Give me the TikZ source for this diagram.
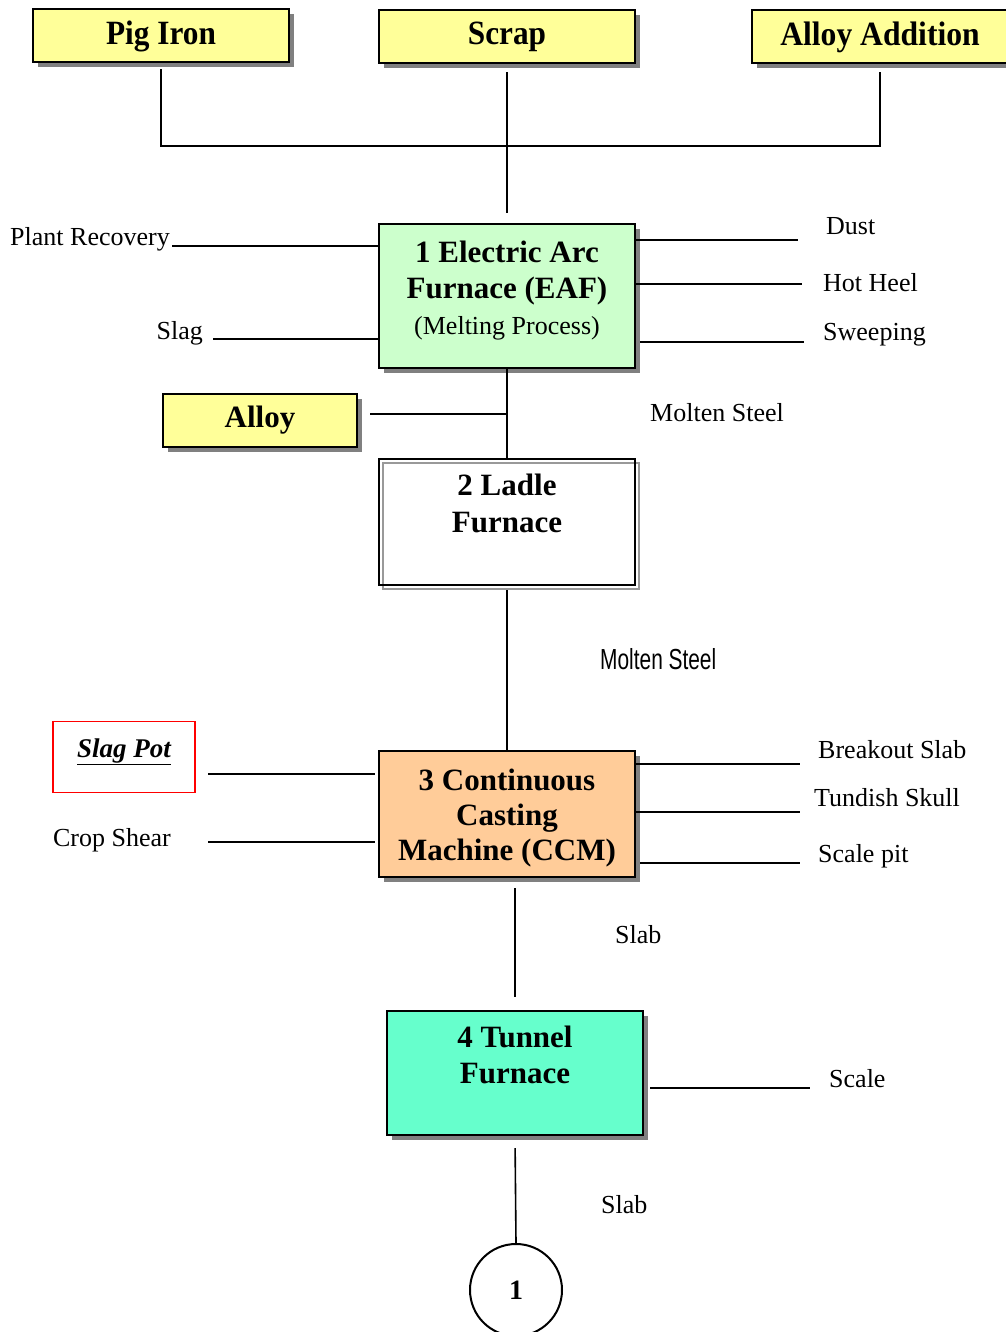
\documentclass[tikz,border=0pt]{standalone}
\usepackage{fontspec}
\setmainfont{Liberation Serif}
\newfontfamily\narrowsans{Liberation Sans}
\usepackage{graphicx}
\usetikzlibrary{shadows}

\definecolor{feedyellow}{RGB}{255,255,153}
\definecolor{eafgreen}{RGB}{204,255,204}
\definecolor{ccmpeach}{RGB}{255,204,153}
\definecolor{tunnelaqua}{RGB}{102,255,204}

\begin{document}
\begin{tikzpicture}[x=1pt,y=-1pt,
	flow/.style={line width=1.6pt},
	unitbox/.style={draw, line width=2pt, inner sep=0pt, minimum width=256pt, align=center,
		font=\bfseries\fontsize{31}{36}\selectfont,
		drop shadow={shadow xshift=5pt, shadow yshift=-5pt, fill=black!50, opacity=1}},
	unittext/.style={align=center, inner sep=0pt, font=\bfseries\fontsize{31}{36}\selectfont},
	feedbox/.style={unitbox, fill=feedyellow, minimum height=53pt, font=\bfseries\fontsize{34}{36}\selectfont},
	sidetext/.style={inner sep=0pt, font=\fontsize{26}{30}\selectfont}]
		
		\useasboundingbox (0,0) rectangle (1005,1332);
		
		% Feed boxes
		\node [feedbox] (pig) at (161,36) {\scalebox{0.92}[1]{Pig Iron}};
		\node [feedbox] (scrap) at (507,37) {\scalebox{0.92}[1]{Scrap}};
		\node [feedbox] (alloyadd) at (880,37) {\scalebox{0.93}[1]{Alloy Addition}};
		\coordinate (join) at (507,146);
		
		% Shape: EAF
		\node [unitbox, fill=eafgreen, minimum height=144pt,
			label={[name=eaftext, unittext, yshift=5pt]center:1 Electric Arc\\Furnace (EAF)\\{\mdseries\fontsize{26}{36}\selectfont (Melting Process)}}]
			(eaf) at (507,296) {};
		% feed lines
		\draw [flow] ([yshift=-6pt]pig.south) |- (join);
		\draw [flow] ([yshift=-8pt]alloyadd.south) |- (join);
		\draw [flow] ([yshift=-8pt]scrap.south) -- ([yshift=10pt]eaf.north);
		
		% Text Node
		\node [sidetext, anchor=base east] (plantrec) at (170,246) {Plant Recovery};
		\draw [flow, shorten <=2pt] (plantrec.base east) -- (eaf.west |- plantrec.base);
		% Text Node
		\node [sidetext, anchor=base east] (slag) at (203,339) {Slag};
		\draw [flow, shorten <=10pt] (slag.base east) -- (eaf.west |- slag.base);
		% Text Node
		\coordinate (dustend) at (798,240);
		\node [sidetext, anchor=base west] (dust) at (826,235) {Dust};
		\draw [flow] (eaf.east |- dustend) -- (dustend);
		% Text Node
		\coordinate (heelend) at (802,284);
		\node [sidetext, anchor=base west] (hotheel) at (823,291) {Hot Heel};
		\draw [flow] (eaf.east |- heelend) -- (heelend);
		% Text Node
		\coordinate (sweepend) at (804,342);
		\node [sidetext, anchor=base west] (sweep) at (823,340) {Sweeping};
		\draw [flow] ([xshift=4pt]eaf.east |- sweepend) -- (sweepend);
		
		% Shape: Alloy
		\node [unitbox, fill=feedyellow, minimum width=194pt, minimum height=53pt] (alloy) at (260,420) {Alloy};
		\coordinate (alloyjoin) at (507,414);
		\draw [flow, shorten <=12pt] (alloy.east |- alloyjoin) -- (alloyjoin);
		% Text Node
		\node [sidetext, anchor=base west] (molten1) at (650,421) {Molten Steel};
		
		% Shape: Ladle
		\node [draw, line width=2pt, inner sep=0pt, minimum width=256pt, minimum height=126pt, align=center,
			font=\bfseries\fontsize{31}{37}\selectfont,
			general shadow={shadow xshift=4pt, shadow yshift=-4pt, draw=black!40, line width=1.2pt}]
			(ladle) at (507,522) {2 Ladle\\Furnace\\ \mbox{}};
		\draw [flow] (eaf.south) -- (ladle.north);
		
		% Shape: CCM
		\node [unitbox, fill=ccmpeach, minimum height=126pt,
			label={[name=ccmtext, unittext, font=\bfseries\fontsize{31}{35}\selectfont, yshift=-4pt]center:3 Continuous\\Casting\\Machine (CCM)}]
			(ccm) at (507,814) {};
		\draw [flow] ([yshift=-4pt]ladle.south) -- (ccm.north);
		% Text Node
		\node [anchor=base west, inner sep=0pt, font=\narrowsans\fontsize{29}{32}\selectfont] (molten2) at (600,669)
			{\scalebox{0.72}[1]{Molten Steel}};
		
		% Shape: Slag Pot
		\node [draw=red, line width=1.6pt, minimum width=142pt, minimum height=71pt, inner sep=0pt,
			text height=20pt, text depth=20pt, font=\bfseries\itshape\fontsize{27}{30}\selectfont]
			(slagpot) at (124,757) {\underline{Slag Pot}};
		\coordinate (potend) at (208,774);
		\draw [flow] (potend) -- ([xshift=-3pt]ccm.west |- potend);
		% Text Node
		\node [sidetext, anchor=base east] (crop) at (171,846) {Crop Shear};
		\coordinate (cropend) at (208,842);
		\draw [flow] (cropend) -- ([xshift=-3pt]ccm.west |- cropend);
		% Text Node
		\coordinate (breakend) at (800,764);
		\node [sidetext, anchor=base west] (breakout) at (818,758) {Breakout Slab};
		\draw [flow] (ccm.east |- breakend) -- (breakend);
		% Text Node
		\coordinate (skullend) at (800,812);
		\node [sidetext, anchor=base west] (tundish) at (814,806) {Tundish Skull};
		\draw [flow] (ccm.east |- skullend) -- (skullend);
		% Text Node
		\coordinate (pitend) at (800,863);
		\node [sidetext, anchor=base west] (scalepit) at (818,862) {Scale pit};
		\draw [flow] ([xshift=4pt]ccm.east |- pitend) -- (pitend);
		
		% Shape: Tunnel Furnace
		\node [unitbox, fill=tunnelaqua, minimum height=124pt] (tunnel) at (515,1073) {4 Tunnel\\Furnace\\ \mbox{}};
		\draw [flow, shorten <=10pt, shorten >=13pt] (ccm.south -| tunnel.north) -- (tunnel.north);
		% Text Node
		\node [sidetext, anchor=base west] (slab1) at (615,943) {Slab};
		% Text Node
		\coordinate (scaleend) at (810,1088);
		\node [sidetext, anchor=base west] (scale) at (829,1087) {Scale};
		\draw [flow] ([xshift=6pt]tunnel.east |- scaleend) -- (scaleend);
		
		% Connector circle
		\node [draw, circle, line width=2pt, minimum size=92pt, inner sep=0pt,
			font=\bfseries\fontsize{28}{30}\selectfont] (cont) at (516,1290) {1};
		\draw [flow, shorten <=12pt] (tunnel.south) -- (cont.north);
		% Text Node
		\node [sidetext, anchor=base west] (slab2) at (601,1213) {Slab};
		
\end{tikzpicture}
\end{document}
